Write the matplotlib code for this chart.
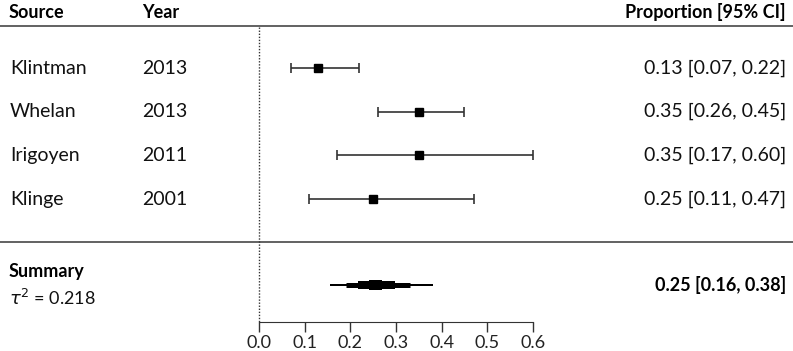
import matplotlib
matplotlib.use("Agg")
import matplotlib.pyplot as plt
import matplotlib.transforms as mtransforms

plt.rcParams['font.family'] = ['Lato', 'DejaVu Sans']

sources = ["Klintman", "Whelan", "Irigoyen", "Klinge"]
years = ["2013", "2013", "2011", "2001"]
est = [0.13, 0.35, 0.35, 0.25]
lo = [0.07, 0.26, 0.17, 0.11]
hi = [0.22, 0.45, 0.60, 0.47]
summary_est, summary_lo, summary_hi = 0.25, 0.16, 0.38
# nested summary intervals (outer -> inner)
summary_bands_lo = [0.155, 0.19, 0.217, 0.24]
summary_bands_hi = [0.38, 0.33, 0.298, 0.27]
tau2 = 0.218
xticks = [0.0, 0.1, 0.2, 0.3, 0.4, 0.5, 0.6]

W, H = 793, 351
fig = plt.figure(figsize=(W / 100, H / 100), dpi=100)
ax = fig.add_axes([0, 0, 1, 1])
ppu = 274 / 0.6
x0px = 259
ax.set_xlim(-x0px / ppu, (W - x0px) / ppu)
rs = 43.7
def py(p):
    return (p - 68) / rs + 1
ax.set_ylim(py(H), py(0))

for s in ['top', 'right', 'left']:
    ax.spines[s].set_visible(False)
ax.spines['bottom'].set_position(('data', py(322)))
ax.spines['bottom'].set_bounds(0, 0.6)
ax.spines['bottom'].set_color('#333333')
ax.set_xticks(xticks)
ax.set_xticklabels([f"{t:.1f}" for t in xticks], fontsize=13, color='#222222')
ax.tick_params(axis='x', length=7, width=1, color='#333333', pad=2)
ax.set_yticks([])

fs = 14
tx = mtransforms.blended_transform_factory(fig.transFigure, ax.transData)
def fx(p):
    return p / W

# header
ax.text(fx(9), py(12), "Source", transform=tx, fontsize=13, fontweight='bold', va='center', ha='left')
ax.text(fx(142), py(12), "Year", transform=tx, fontsize=13, fontweight='bold', va='center', ha='left')
ax.text(fx(786), py(12), "Proportion [95% CI]", transform=tx, fontsize=13, fontweight='bold', va='center', ha='right')
ax.plot([fx(0), fx(W)], [py(26), py(26)], transform=tx, color='#555555', lw=1.3, clip_on=False)
ax.plot([fx(0), fx(W)], [py(242), py(242)], transform=tx, color='#555555', lw=1.3, clip_on=False)

# reference line at 0
ax.plot([0, 0], [py(27), py(322)], color='#333333', lw=1, ls=(0, (1, 1.2)))

for i, (s, y, e, l, h) in enumerate(zip(sources, years, est, lo, hi)):
    r = i + 1
    ax.text(fx(10), r, s, transform=tx, fontsize=fs, va='center', ha='left', color='#111111')
    ax.text(fx(142), r, y, transform=tx, fontsize=fs, va='center', ha='left', color='#111111')
    ax.text(fx(786), r, f"{e:.2f} [{l:.2f}, {h:.2f}]", transform=tx, fontsize=fs,
            va='center', ha='right', color='#111111')
    ax.errorbar([e], [r], xerr=[[e - l], [h - e]], fmt='s', color='#333333', ecolor='#333333',
                elinewidth=1.2, capsize=3.5, capthick=1.2, markersize=5.5,
                markerfacecolor='black', markeredgecolor='black')

# summary
ys = py(285)
heights = [2, 5, 8, 10]
for l, h, hh in zip(summary_bands_lo, summary_bands_hi, heights):
    ax.plot([l, h], [ys, ys], color='black', lw=hh * 0.72, solid_capstyle='butt')
ax.text(fx(9), py(272), "Summary", transform=tx, fontsize=13, fontweight='bold', va='center', ha='left')
ax.text(fx(9), py(298), r"$\tau^2$" + f" = {tau2:.3f}", transform=tx, fontsize=13,
        va='center', ha='left', color='#111111')
ax.text(fx(786), py(285), f"{summary_est:.2f} [{summary_lo:.2f}, {summary_hi:.2f}]", transform=tx,
        fontsize=13, fontweight='bold', va='center', ha='right')

fig.savefig("out.png", dpi=100)
